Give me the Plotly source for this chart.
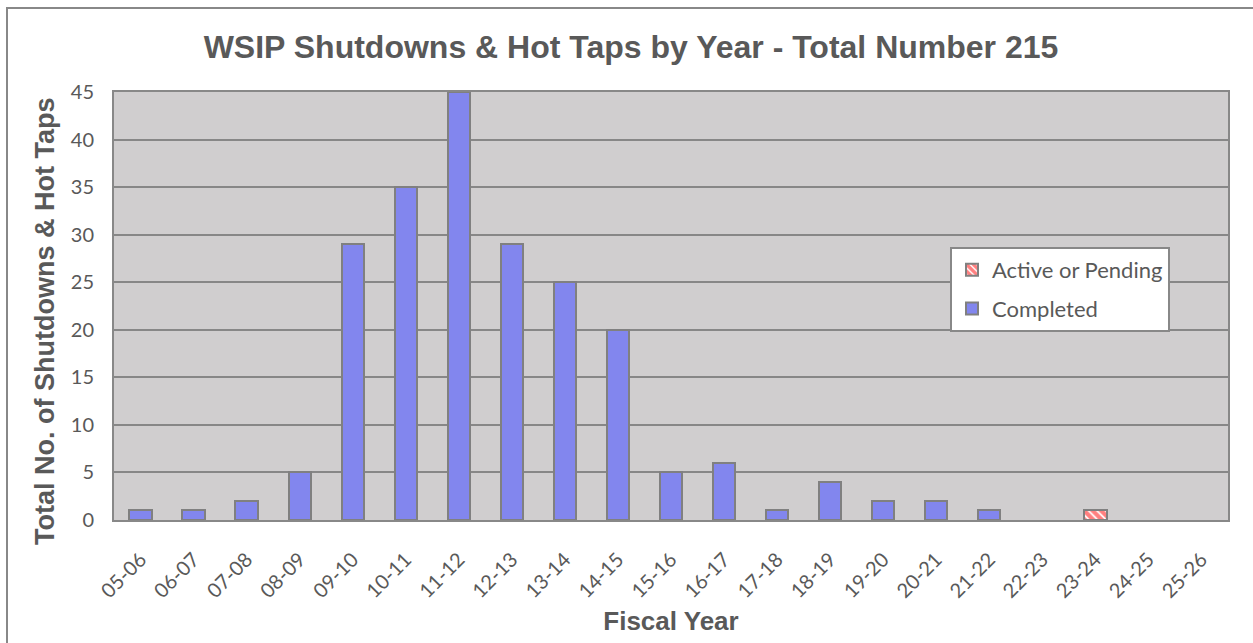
import plotly.graph_objects as go

categories = ["05-06", "06-07", "07-08", "08-09", "09-10", "10-11", "11-12", "12-13",
              "13-14", "14-15", "15-16", "16-17", "17-18", "18-19", "19-20", "20-21",
              "21-22", "22-23", "23-24", "24-25", "25-26"]
completed = [1, 1, 2, 5, 29, 35, 45, 29, 25, 20, 5, 6, 1, 4, 2, 2, 1, None, None, None, None]
active_pending = [None] * 18 + [1, None, None]

W, H = 1253, 643
L, R, T, B = 114, 1228, 92, 520
pw, ph = R - L, B - T

def px(x):
    return (x - L) / pw

def py(y):
    return (B - y) / ph

fig = go.Figure()
fig.add_trace(go.Bar(
    x=categories, y=active_pending, name="Active or Pending", legendgroup="a",
    marker=dict(color="white", line=dict(color="#808080", width=2),
                pattern=dict(shape="\\", fgcolor="#FF0000", bgcolor="white", size=6, solidity=0.7)),
))
fig.add_trace(go.Bar(
    x=categories, y=completed, name="Completed", legendgroup="b",
    marker=dict(color="#8286EE", line=dict(color="#808080", width=2)),
))

fig.update_layout(
    width=W, height=H,
    margin=dict(l=L, r=W - R, t=T, b=H - B, autoexpand=False),
    barmode="stack", bargap=0.58,
    paper_bgcolor="white", plot_bgcolor="#D0CECF",
    title=dict(text="<b>WSIP Shutdowns & Hot Taps by Year - Total Number 215</b>",
               font=dict(family="Liberation Sans, Arial", size=32, color="#595959"),
               x=px(631), xref="paper", xanchor="center", y=1 - 47 / H, yanchor="middle"),
    font=dict(family="Lato, Open Sans", color="#595959"),
    legend=dict(x=px(950), y=py(247), xanchor="left", yanchor="top",
                bgcolor="white", bordercolor="#888888", borderwidth=2,
                font=dict(family="Lato, Open Sans", size=22, color="#595959"),
                traceorder="grouped", tracegroupgap=7, itemwidth=30),
    showlegend=True,
)
fig.update_xaxes(
    type="category", automargin=False,
    tickangle=-45, tickfont=dict(size=20, color="#595959"), ticklabelstandoff=18,
    title=dict(text="<b>Fiscal Year</b>", font=dict(family="Liberation Sans, Arial", size=26, color="#595959"),
               standoff=11),
    showline=True, linecolor="#888888", linewidth=2, mirror=True, ticks="",
)
fig.update_yaxes(
    range=[0, 45], dtick=5, automargin=False,
    tickfont=dict(size=20, color="#595959"), ticklabelstandoff=14,
    gridcolor="#878787", gridwidth=2,
    showline=True, linecolor="#888888", linewidth=2, mirror=True, ticks="", zeroline=False,
)
fig.add_annotation(
    text="<b>Total No. of Shutdowns & Hot Taps</b>", textangle=-90,
    xref="paper", yref="paper", x=px(45), y=py(322), xanchor="center", yanchor="middle",
    showarrow=False, font=dict(family="Liberation Sans, Arial", size=27, color="#595959"),
)
fig.add_shape(type="rect", xref="paper", yref="paper",
              x0=px(7), x1=px(1262), y0=py(660), y1=py(8),
              line=dict(color="#888888", width=2), layer="below")

fig.write_html("out.html")
